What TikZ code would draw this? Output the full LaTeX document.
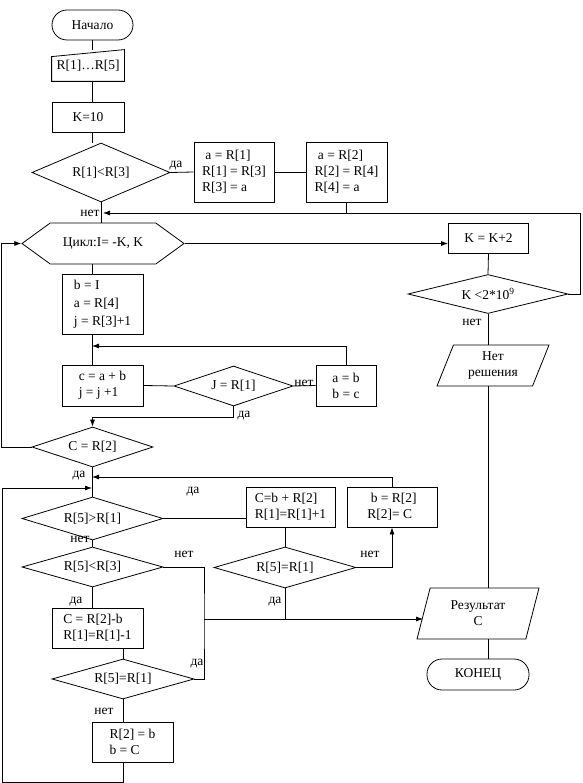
\documentclass[tikz,border=0pt]{standalone}
\usepackage{fontspec}
\setmainfont{Liberation Serif}
\usetikzlibrary{shapes.geometric,shapes.symbols,arrows.meta}

\tikzset{
  term/.style={draw,rectangle,rounded corners=15pt,minimum height=30pt},
  proc/.style={draw,rectangle,align=left,inner sep=0pt},
  dec/.style={draw,diamond,aspect=3.5,inner sep=1pt},
  io/.style={draw,trapezium,trapezium stretches body,align=center,inner sep=1pt},
  lbl/.style={inner sep=0pt}
}

\begin{document}
\begin{tikzpicture}[x=1pt,y=-1pt,line width=0.8pt,>={Latex[length=7pt,width=5pt]},
    font=\fontsize{13.5}{16}\selectfont]
  \useasboundingbox (0,0) rectangle (582,783);

  \begin{scope}[every node/.style={term}]
    \node (start) at (92.5,25) [minimum width=81pt] {Начало};
    \node (fin) at (478,674.5) [minimum width=102pt,minimum height=31pt] {КОНЕЦ};
  \end{scope}

  % ввод
  \node (inp) at (88,65.5) [minimum width=72pt,minimum height=31pt,inner sep=0pt] {\raisebox{-3pt}{R[1]…R[5]}};
  \draw (inp.south west) -- (inp.south east) -- (inp.north east) -- ([yshift=-7pt]inp.north west) -- cycle;

  \begin{scope}[every node/.style={proc}]
    \node (kinit) at (88,117) [minimum width=72pt,minimum height=30pt] {K=10};
    \node (sw1) at (234,172) [minimum width=80pt,minimum height=60pt] {\ a = R[1]\\R[1] = R[3]\\R[3] = a};
    \node (sw2) at (346.5,172) [minimum width=81pt,minimum height=60pt] {\ a = R[2]\\R[2] = R[4]\\R[4] = a};
    \node (kinc) at (488.5,238) [minimum width=80pt,minimum height=30pt] {K = K+2};
    \node (init2) at (102.5,304) [minimum width=81pt,minimum height=60pt,font=\fontsize{13.5}{18}\selectfont] {b = I\\a = R[4]\\j = R[3]+1};
    \node (sum) at (102.5,385.5) [minimum width=81pt,minimum height=41pt] {c = a + b\\j = j +1};
    \node (shift) at (346,385.5) [minimum width=60pt,minimum height=41pt] {a = b\\b = c};
    \node (add) at (290.5,507) [minimum width=89pt,minimum height=40pt] {C=b + R[2]\\R[1]=R[1]+1};
    \node (swp) at (392,507) [minimum width=90pt,minimum height=40pt] {\ b = R[2]\\R[2]= C};
    \node (sub) at (97.5,628) [minimum width=91pt,minimum height=40pt] {C = R[2]-b\\R[1]=R[1]-1};
    \node (back) at (132.5,742) [minimum width=81pt,minimum height=40pt] {R[2] = b\\b = C};
  \end{scope}

  \begin{scope}[every node/.style={dec}]
    \node (d1) at (101,172.5) [minimum width=138pt,minimum height=59pt] {R[1]<R[3]};
    \node (dk) at (488,294) [minimum width=160pt,minimum height=39pt] {K <2*10\textsuperscript{9}};
    \node (dj) at (233.5,386) [minimum width=119pt,minimum height=40pt] {J = R[1]};
    \node (dc) at (92.5,447) [minimum width=121pt,minimum height=40pt] {C = R[2]};
    \node (d5a) at (92.5,518.5) [minimum width=141pt,minimum height=43pt] {R[5]>R[1]};
    \node (d5b) at (92.5,567) [minimum width=141pt,minimum height=40pt] {R[5]<R[3]};
    \node (d5c) at (285,567.5) [minimum width=142pt,minimum height=41pt] {R[5]=R[1]};
    \node (d5d) at (123,679) [minimum width=142pt,minimum height=40pt] {R[5]=R[1]};
  \end{scope}

  \node (loop) at (103,243.5) [draw,signal,signal to=east and west,signal pointer angle=72,
    minimum width=162pt,minimum height=41pt,inner sep=0pt] {Цикл:I= -K, K};

  \node (nosol) at (493,365.5) [io,trapezium left angle=61,trapezium right angle=119,
    minimum width=112pt,minimum height=41pt] {Нет\\решения};
  \node (res) at (478,613.5) [io,trapezium left angle=64,trapezium right angle=116,
    minimum width=122pt,minimum height=51pt] {Результат\\C};

  \begin{scope}[every node/.style={lbl}]
    \node (y1) at (176,166) {да};
    \node (n1) at (90,213) {нет};
    \node (n2) at (472,322) {нет};
    \node (n3) at (304,383) {нет};
    \node (y2) at (244,416) {да};
    \node (y3) at (79,476) {да};
    \node (y4) at (193,492) {да};
    \node (n4) at (80,539) {нет};
    \node (n5) at (184,554) {нет};
    \node (n6) at (370,554) {нет};
    \node (y5) at (275,602) {да};
    \node (y6) at (76,602) {да};
    \node (y7) at (197,664) {да};
    \node (n7) at (104,711) {нет};
  \end{scope}

  \coordinate (join1) at (103,213);
  \coordinate (join2) at (92,346);
  \coordinate (join3) at (92,477);
  \coordinate (join4) at (92,488);
  \coordinate (lb) at (2,782);
  \coordinate (rv) at (204,619);

  % основная ветвь
  \draw (start.south) -- (start.south |- inp.north);
  \draw (inp.south -| start) -- (kinit.north -| start);
  \draw (kinit.south -| start) -- (d1.north -| start);
  \draw (d1.south) -- (d1.south |- loop.north);
  \draw (d1.east) -- (sw1.west);
  \draw (sw1.east) -- (sw2.west);
  \draw [->] (sw2.south) |- (join1);
  \draw (dk.east) -- ++(12,0) |- (sw2.south |- join1);
  \draw [->] (loop.east) -- (loop.east -| kinc.west);
  \draw (kinc.south) -- (dk.north);
  \draw (dk.south) -- (nosol.north -| dk);
  \draw (nosol.south -| dk) -- (res.north -| dk);
  \draw (res.south -| dk) -- (fin.north -| dk);

  % цикл
  \draw (loop.south -| start) -- (init2.north -| start);
  \draw (init2.south -| start) -- (sum.north -| start);
  \draw [->] (shift.north) |- (join2);
  \draw (sum.east) -- (dj.west);
  \draw (dj.east) -- (shift.west);
  \draw [->] (dj.south) -- ++(0,11) -| (dc.north);
  \draw [->] (dc.west) -- ++(-30,0) |- (loop.west);

  % нижняя часть
  \draw (dc.south) -- (d5a.north);
  \draw [->] (swp.north) |- (join3);
  \draw [->] (back.south -| d5d) |- (lb) |- (join4);
  \draw (d5a.east) -- (d5a.east -| add.west);
  \draw (d5a.south) -- (d5b.north);
  \draw (add.south -| d5c) -- (d5c.north);
  \draw [->] (d5c.east) -| (swp.south);
  \draw (d5c.south) -- (d5c.south |- rv);
  \draw (d5b.east) -| (rv) |- (d5d.east);
  \draw [->] (rv) -- (rv -| res.west);
  \draw (d5b.south) -- (sub.north -| d5b);
  \draw (sub.south -| d5d) -- (d5d.north);
  \draw (d5d.south) -- (back.north -| d5d);
\end{tikzpicture}
\end{document}
